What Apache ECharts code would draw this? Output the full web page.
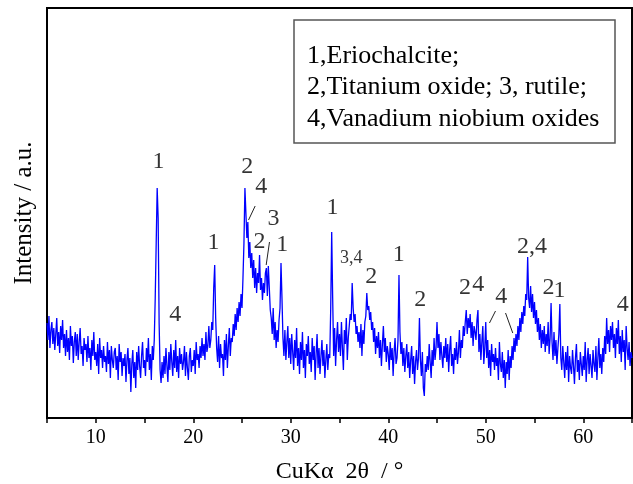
<!DOCTYPE html>
<html>
<head>
<meta charset="utf-8">
<script src="https://cdn.jsdelivr.net/npm/echarts@6/dist/echarts.min.js"></script>
<style>html,body{margin:0;padding:0;background:#fff;}#c{width:633px;height:484px;}</style>
</head>
<body>
<div id="c"></div>
<script>
const twoThetaStart = 5;
const twoThetaStep = 0.1;
const intensity = [
95,78,102,70,88,96,74,90,68,84,
100,72,86,65,92,78,98,70,84,62,
88,66,80,58,92,72,82,55,76,86,
62,84,58,76,90,64,72,52,80,68,
74,56,82,60,70,48,78,62,86,58,
66,52,74,44,80,60,68,50,72,56,
62,46,76,54,68,40,72,58,50,66,
70,48,62,38,74,56,66,42,60,52,
64,36,58,70,44,60,26,54,68,40,
56,30,66,48,72,52,40,62,76,50,
58,42,70,56,80,48,64,38,72,58,
78,120,175,230,200,95,48,35,56,40,
62,44,70,52,36,66,48,74,56,42,
68,50,78,46,62,40,70,54,64,48,
56,72,42,66,50,38,62,70,46,58,
52,68,44,76,58,64,50,72,60,80,
62,74,58,86,66,72,92,70,78,96,
88,130,153,100,70,56,82,50,74,60,
64,42,78,58,84,50,72,90,62,80,
76,94,82,104,88,110,96,116,102,124,
110,140,175,230,205,180,196,160,176,150,
165,140,158,130,150,125,145,135,163,128,
140,118,135,125,145,150,122,152,130,108,
100,84,110,78,96,70,88,76,98,110,
155,120,80,62,88,58,76,92,60,80,
54,84,66,48,78,60,90,52,70,44,
76,58,86,50,68,40,74,62,82,54,
66,46,80,58,72,38,64,84,50,70,
44,62,78,52,68,40,58,74,48,64,
60,110,186,120,62,90,52,78,96,66,
84,62,96,70,48,88,74,100,58,80,
92,104,98,135,110,96,104,84,92,76,
86,70,94,62,88,74,96,102,125,108,
112,98,106,88,96,76,90,64,82,70,
86,60,78,52,74,92,66,80,56,72,
64,48,76,58,70,42,66,80,54,60,
78,143,86,64,76,52,70,46,62,74,
50,66,40,58,72,44,62,34,56,68,
48,60,100,58,42,66,30,22,54,46,
62,48,74,56,40,68,52,80,58,70,
96,70,84,58,76,62,50,72,60,80,
56,74,46,68,82,52,64,44,70,58,
76,54,66,88,60,78,70,92,82,96,
108,84,100,90,104,80,96,72,92,86,
78,98,108,66,84,58,76,92,54,70,
96,60,78,50,68,42,74,56,64,48,
70,52,60,38,76,54,46,66,40,58,
30,56,44,68,38,62,50,72,58,80,
66,84,72,92,78,100,86,106,94,112,
102,124,118,161,120,110,132,106,124,100,
116,94,108,86,100,78,94,70,88,74,
92,66,84,72,96,64,80,115,76,58,
86,62,78,54,70,84,114,60,48,72,
56,40,66,48,72,36,62,50,44,68,
52,34,60,74,46,58,38,66,54,42,
62,48,76,36,58,70,44,64,52,40,
68,54,46,72,38,60,80,50,64,44,
70,56,82,64,100,74,88,66,92,78,
96,70,84,60,90,74,98,64,82,56,
88,66,78,48,92,70,58,76,52,66,
60
];
const peakLabels = [
  [16.44,256,'1'],[18.15,103,'4'],[22.08,175,'1'],[25.53,251,'2'],[26.97,231,'4'],
  [28.23,199,'3'],[26.79,176,'2'],[29.12,173,'1'],[34.28,210,'1'],[38.25,141,'2'],
  [41.08,163,'1'],[43.28,118,'2'],[47.86,130,'2'],[49.24,133,'4'],[51.58,121,'4'],
  [54.75,171,'2,4'],[56.43,130,'2'],[57.56,127,'1'],[64.06,113,'4']
];
const smallLabels = [[36.2,160,'3,4']];
const leaderLines = [
  [[25.67,198],[26.35,212]],
  [[27.48,153],[27.82,176]],
  [[50.38,95],[51.0,107]],
  [[52.03,105],[52.77,85]]
];
const legendLines = ['1,Eriochalcite;','2,Titanium oxide; 3, rutile;','4,Vanadium niobium oxides'];
const xTicks = [10,20,30,40,50,60];

const serif = '"Liberation Serif","DejaVu Serif",serif';
const xy = intensity.map((v,i)=>[+(twoThetaStart + i*twoThetaStep).toFixed(2), v]);

const series = [{
  type:'line', data: xy, symbol:'none', animation:false,
  lineStyle:{color:'#0000ff', width:1.3}
},{
  type:'scatter', data: peakLabels, symbolSize:1, itemStyle:{color:'rgba(0,0,0,0)'},
  label:{show:true, position:'inside', formatter:p=>p.value[2], fontFamily:serif, fontSize:24, color:'#000'}
},{
  type:'scatter', data: smallLabels, symbolSize:1, itemStyle:{color:'rgba(0,0,0,0)'},
  label:{show:true, position:'inside', formatter:p=>p.value[2], fontFamily:serif, fontSize:18, color:'#000'}
}];
leaderLines.forEach(seg=>series.push({type:'line', data:seg, symbol:'none', lineStyle:{color:'#222', width:1}}));

const chart = echarts.init(document.getElementById('c'));
chart.setOption({
  animation:false,
  grid:{left:47, right:1, top:8, bottom:66, show:true, borderColor:'#000', borderWidth:2,
    containLabel:false, outerBoundsMode:'none'},
  xAxis:{type:'value', min:5, max:65, interval:5,
    name:'CuKα  2θ  / °', nameLocation:'middle', nameGap:42,
    nameTextStyle:{fontFamily:serif, fontSize:24, color:'#000'},
    axisLine:{lineStyle:{color:'#000', width:2}},
    axisTick:{inside:false, length:5, lineStyle:{color:'#000', width:1.5}},
    axisLabel:{fontFamily:serif, fontSize:20, color:'#000', margin:10,
      formatter:v=> xTicks.includes(v) ? String(v) : ''},
    splitLine:{show:false}},
  yAxis:{type:'value', min:0, max:410,
    name:'Intensity / a.u.', nameLocation:'middle', nameGap:10,
    nameTextStyle:{fontFamily:serif, fontSize:25, color:'#000'},
    axisLine:{show:true, lineStyle:{color:'#000', width:2}},
    axisTick:{show:false}, axisLabel:{show:false}, splitLine:{show:false}},
  graphic:[{
    type:'rect', shape:{x:294, y:20, width:321, height:123},
    style:{fill:'#fff', stroke:'#555', lineWidth:1.5}, z:10
  }].concat(legendLines.map((t,i)=>({
    type:'text', left:307, top:43 + i*31.5, z:11,
    style:{text:t, font:'26px ' + serif, fill:'#000'}
  }))),
  series: series
});
</script>
</body>
</html>
